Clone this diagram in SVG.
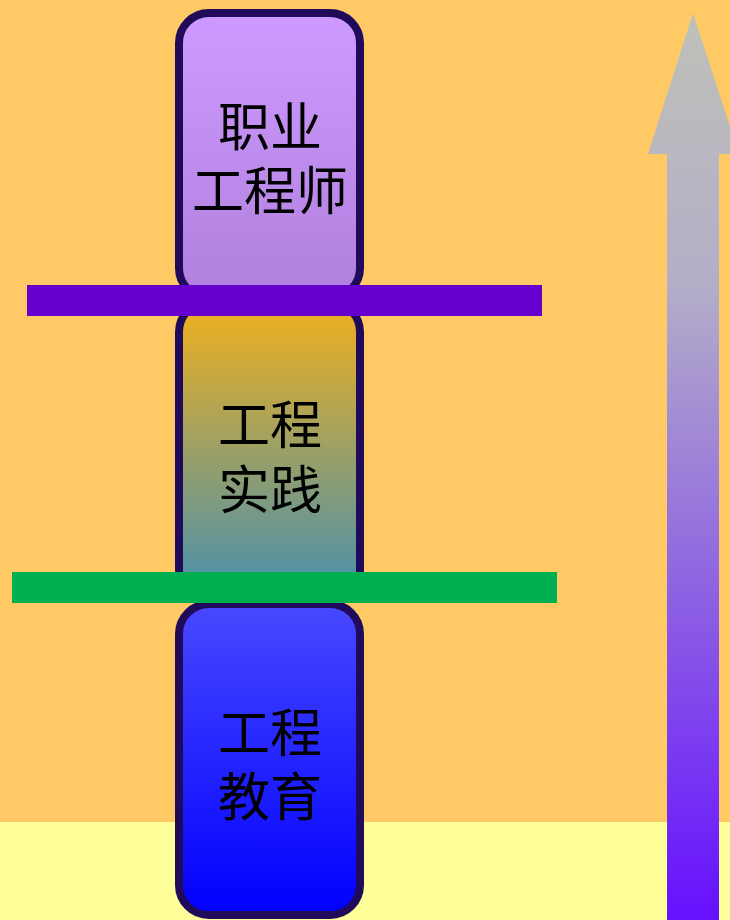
<svg xmlns="http://www.w3.org/2000/svg" width="730" height="920" viewBox="0 0 730 920">
<defs>
<linearGradient id="g1" x1="0" y1="0" x2="0" y2="1"><stop offset="0" stop-color="#CE9AFF"/><stop offset="1" stop-color="#B080DD"/></linearGradient>
<linearGradient id="g2" x1="0" y1="0" x2="0" y2="1"><stop offset="0" stop-color="#F2B01C"/><stop offset="1" stop-color="#4490B0"/></linearGradient>
<linearGradient id="g3" x1="0" y1="0" x2="0" y2="1"><stop offset="0" stop-color="#4848FF"/><stop offset="1" stop-color="#0000FF"/></linearGradient>
<linearGradient id="ga" gradientUnits="userSpaceOnUse" x1="0" y1="13" x2="0" y2="920"><stop offset="0" stop-color="#BFC1B8"/><stop offset="0.3" stop-color="#B3AEC8"/><stop offset="1" stop-color="#6610FF"/></linearGradient>
<style>
.box{stroke:#200A5A;stroke-width:8}
.lbl{font-family:"Liberation Serif","Noto Sans CJK SC","Noto Sans CJK JP",serif;font-size:52px;fill:#000;text-anchor:middle}
</style>
</defs>
<rect x="0" y="0" width="730" height="920" fill="#FFC966"/>
<rect x="0" y="822" width="730" height="98" fill="#FFFF9A"/>
<g id="arrow">
<path d="M693,13 L739,154 L719,154 L719,920 L667,920 L667,154 L648,154 Z" fill="url(#ga)"/>
</g>
<g id="node-engineer">
<rect class="box" x="179" y="13" width="181" height="285" rx="30" fill="url(#g1)"/>
<text class="lbl"><tspan x="270" y="146">职业</tspan><tspan x="270" y="210">工程师</tspan></text>
</g>
<g id="node-practice">
<rect class="box" x="179" y="302" width="181" height="298" rx="30" fill="url(#g2)"/>
<text class="lbl"><tspan x="270" y="444">工程</tspan><tspan x="270" y="509">实践</tspan></text>
</g>
<g id="node-education">
<rect class="box" x="179" y="604" width="181" height="311" rx="30" fill="url(#g3)"/>
<text class="lbl"><tspan x="270" y="752">工程</tspan><tspan x="270" y="816">教育</tspan></text>
</g>
<g id="connectors">
<rect x="27" y="285" width="515" height="31" fill="#6600CC"/>
<rect x="12" y="572" width="545" height="31" fill="#00AF50"/>
</g>
</svg>
